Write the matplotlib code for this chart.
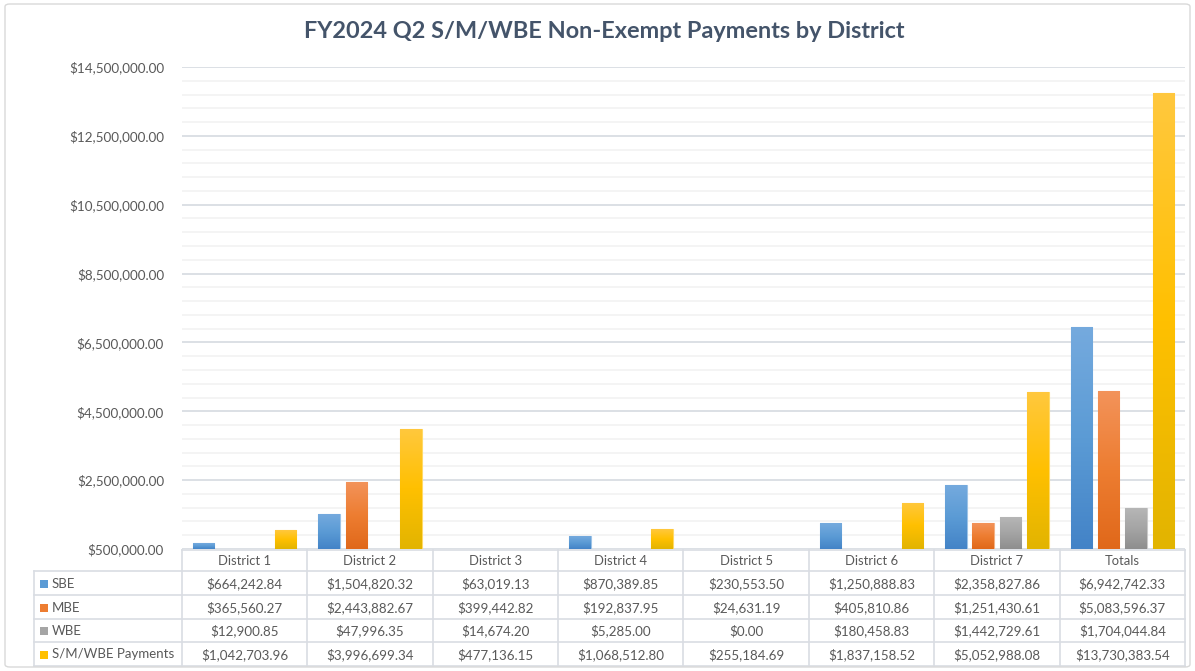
import matplotlib
matplotlib.use("Agg")
import matplotlib.pyplot as plt
import numpy as np
from matplotlib.colors import LinearSegmentedColormap
from matplotlib.patches import Rectangle, FancyBboxPatch
from matplotlib.ticker import FixedLocator, FuncFormatter

# ---------------- data ----------------
categories = ["District 1", "District 2", "District 3", "District 4",
              "District 5", "District 6", "District 7", "Totals"]
series_names = ["SBE", "MBE", "WBE", "S/M/WBE Payments"]
sbe = [664242.84, 1504820.32, 63019.13, 870389.85, 230553.50, 1250888.83, 2358827.86, 6942742.33]
mbe = [365560.27, 2443882.67, 399442.82, 192837.95, 24631.19, 405810.86, 1251430.61, 5083596.37]
wbe = [12900.85, 47996.35, 14674.20, 5285.00, 0.00, 180458.83, 1442729.61, 1704044.84]
smwbe = [1042703.96, 3996699.34, 477136.15, 1068512.80, 255184.69, 1837158.52, 5052988.08, 13730383.54]
title = "FY2024 Q2 S/M/WBE Non-Exempt Payments by District"

series = [sbe, mbe, wbe, smwbe]
base_colors = ["#5b9bd5", "#ed7d31", "#a5a5a5", "#ffc000"]
grad_colors = [
    ("#75aade", "#5b9bd5", "#4383c7"),
    ("#f3935a", "#ed7d31", "#e0681a"),
    ("#b7b7b7", "#a5a5a5", "#8e8e8e"),
    ("#ffc83e", "#ffc000", "#e2b400"),
]
edge_colors = ["#9dc3e6", "#f4b183", "#c9c9c9", "#ffd966"]

FONT = "Lato"
TXT = "#595959"
W, H = 1195, 671

fig = plt.figure(figsize=(W / 100, H / 100), dpi=100)
fig.patch.set_facecolor("white")

# outer chart border
border = FancyBboxPatch((5 / W, 4 / H), (W - 10) / W, (H - 8) / H,
                        boxstyle="round,pad=0,rounding_size=0.004",
                        transform=fig.transFigure, fill=False,
                        edgecolor="#d9d9d9", lw=1.0)
fig.patches.append(border)

fig.text(0.506, (H - 32) / H, title, ha="center", va="center",
         fontsize=16.9, fontweight="bold", color="#44546a", family=FONT)

# ---------------- main axes ----------------
x_left, x_right = 182, 1185
y_top, y_bot = 67, 549
ax = fig.add_axes([x_left / W, (H - y_bot) / H, (x_right - x_left) / W, (y_bot - y_top) / H])
ymin, ymax = 500000, 14500000
ax.set_xlim(-0.5, len(categories) - 0.5)
ax.set_ylim(ymin, ymax)

ax.yaxis.set_major_locator(FixedLocator(np.arange(ymin, ymax + 1, 2000000)))
ax.yaxis.set_minor_locator(FixedLocator(np.arange(ymin, ymax + 1, 400000)))
ax.yaxis.set_major_formatter(FuncFormatter(lambda v, p: f"${v:,.2f}"))
ax.grid(True, which="major", axis="y", color="#d9dde3", lw=1.3, zorder=0)
ax.grid(True, which="minor", axis="y", color="#f1f1f1", lw=1.1, zorder=0)
ax.set_axisbelow(True)
ax.tick_params(axis="y", which="both", length=0, pad=13, labelsize=9.7, labelcolor=TXT)
for lab in ax.get_yticklabels():
    lab.set_family(FONT)
ax.set_xticks([])
for s in ax.spines.values():
    s.set_visible(False)

x = np.arange(len(categories))
step = 0.218
width = 0.172
for i, (vals, gc, ec) in enumerate(zip(series, grad_colors, edge_colors)):
    offs = (i - 1.5) * step
    bars = ax.bar(x + offs, vals, width, color=base_colors[i], edgecolor=ec,
                  lw=0.8, zorder=2)
    cmap = LinearSegmentedColormap.from_list(f"g{i}", [gc[2], gc[1], gc[0]])
    grad = np.linspace(0, 1, 256).reshape(-1, 1)
    for b, v in zip(bars, vals):
        if v <= ymin:
            continue
        x0 = b.get_x()
        im = ax.imshow(grad, cmap=cmap, origin="lower", aspect="auto",
                       extent=[x0, x0 + b.get_width(), ymin, v], zorder=2.5,
                       interpolation="bilinear")
        im.set_clip_path(b)
ax.set_xlim(-0.5, len(categories) - 0.5)
ax.set_ylim(ymin, ymax)

# ---------------- data table ----------------
tx0 = 34
col_w = (x_right - x_left) / len(categories)
rows_y = [550, 571, 595, 619, 642, 666]
tax = fig.add_axes([0, 0, 1, 1])
tax.set_xlim(0, W)
tax.set_ylim(H, 0)
tax.axis("off")
lc = "#d9dde3"
lw = 1.2
# horizontal lines
tax.plot([x_left, x_right], [rows_y[0]] * 2, color=lc, lw=lw)
for yy in rows_y[1:]:
    tax.plot([tx0, x_right], [yy, yy], color=lc, lw=lw)
# vertical lines
tax.plot([tx0, tx0], [rows_y[1], rows_y[-1]], color=lc, lw=lw)
for k in range(len(categories) + 1):
    xx = x_left + k * col_w
    tax.plot([xx, xx], [rows_y[0], rows_y[-1]], color=lc, lw=lw)

fs_head = 9.4
fs_num = 9.6
fs_lab = 9.5
for k, c in enumerate(categories):
    tax.text(x_left + (k + 0.5) * col_w, (rows_y[0] + rows_y[1]) / 2 + 0.5, c,
             ha="center", va="center", fontsize=fs_head, color=TXT, family=FONT)
for r, (name, vals) in enumerate(zip(series_names, series)):
    yc = (rows_y[r + 1] + rows_y[r + 2]) / 2 + 0.5
    tax.add_patch(Rectangle((40, yc - 4), 8, 8, color=base_colors[r], lw=0))
    tax.text(52, yc, name, ha="left", va="center", fontsize=fs_lab, color=TXT, family=FONT)
    for k, v in enumerate(vals):
        tax.text(x_left + (k + 0.5) * col_w, yc, f"${v:,.2f}", ha="center",
                 va="center", fontsize=fs_num, color=TXT, family=FONT)

fig.savefig("out.png", dpi=100, facecolor="white")
